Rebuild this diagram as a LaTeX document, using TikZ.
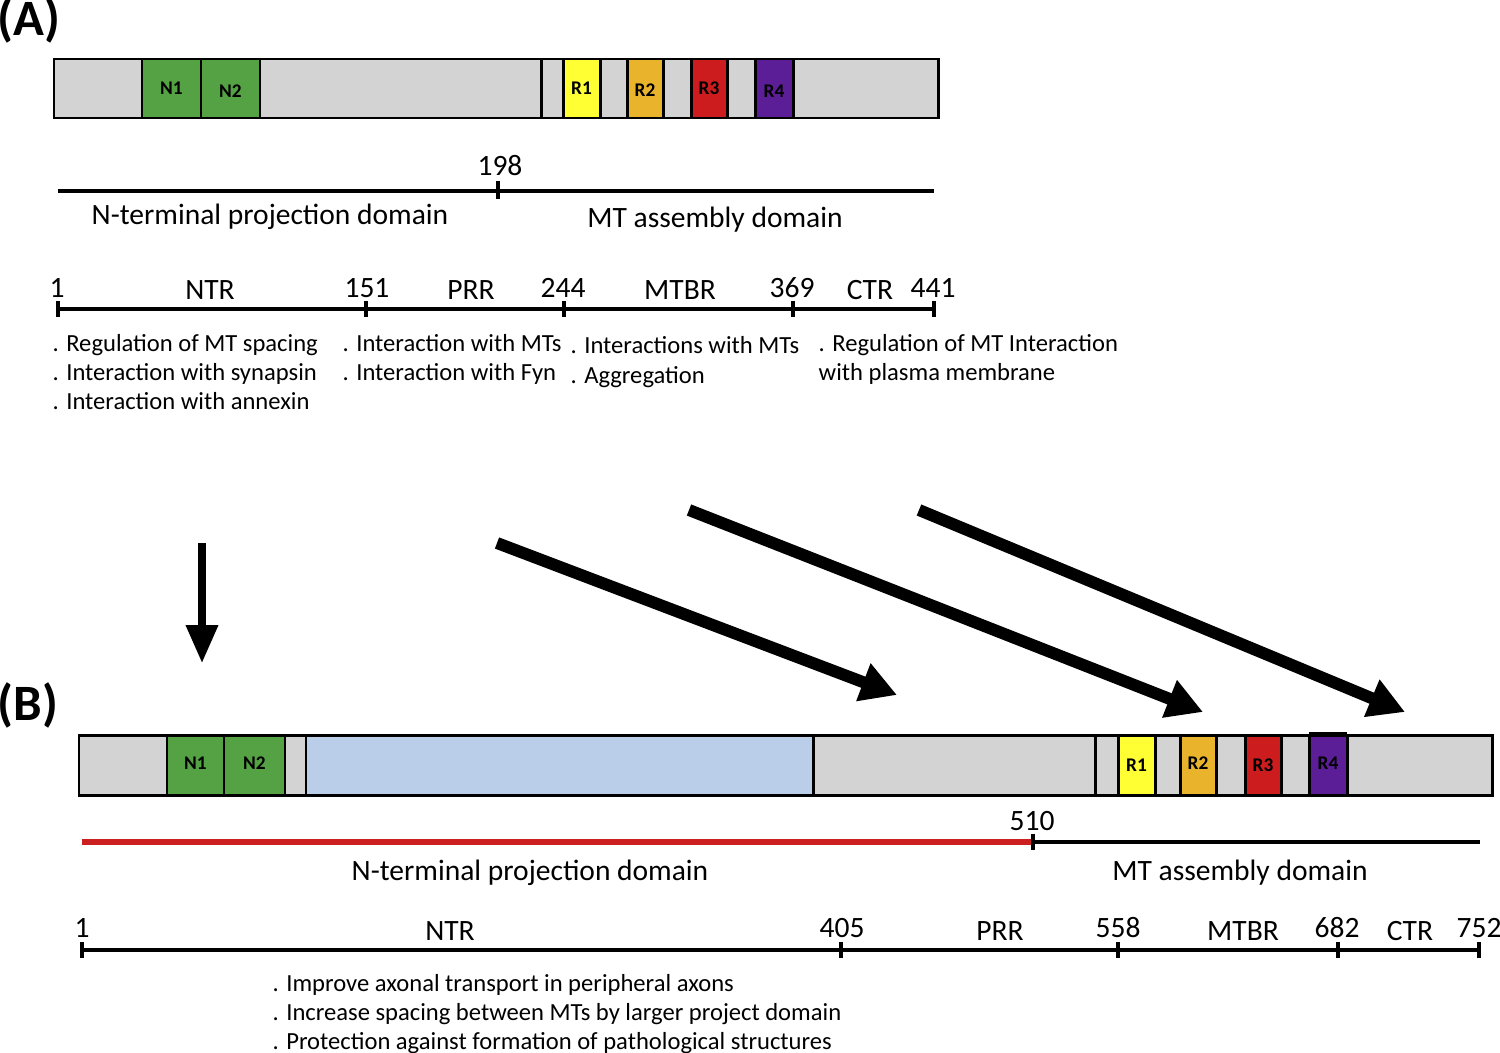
\documentclass[tikz,border=0pt]{standalone}
\usepackage{fontspec}
\setmainfont{Carlito}
\usetikzlibrary{arrows.meta}

\definecolor{domgray}{HTML}{D3D3D3}
\definecolor{ngreen}{HTML}{55A244}
\definecolor{ryellow}{HTML}{FFFF33}
\definecolor{rorange}{HTML}{E9B42B}
\definecolor{rred}{HTML}{CC1C1E}
\definecolor{rpurple}{HTML}{5B1E97}
\definecolor{lblue}{HTML}{BACDE9}
\definecolor{pred}{HTML}{CC1F1F}

\begin{document}
\begin{tikzpicture}[x=0.1mm, y=-0.1mm,
        seg/.style={draw=black, line width=0.85pt},
        tag/.style={font=\fontsize{5.5}{6}\selectfont\bfseries, inner sep=0pt},
        lab/.style={font=\fontsize{8.4}{10}\selectfont, inner sep=0pt, anchor=base},
        note/.style={font=\fontsize{7}{8.25}\selectfont, inner sep=0pt, anchor=base west},
        panel/.style={font=\fontsize{14.5}{16}\selectfont\bfseries, inner sep=0pt},
        axis/.style={line width=1.3pt},
        tick/.style={line width=1.1pt},
        fat/.style={-{Triangle[length=3.6mm, width=3.8mm]}, line width=3.4pt},
        slim/.style={-{Triangle[length=3.8mm, width=3.1mm]}, line width=2pt}
    ]
    \useasboundingbox (0,0) rectangle (1500,1053);

    % Panel labels
    \node[panel] (pa) at (29,20) {(A)};
    \node[panel] (pb) at (28,705) {(B)};

    % Bar A
    \draw[seg, fill=domgray] (54,59) rectangle (938,118);
    \draw[seg] (541,59) -- (541,118);
    \foreach \xa/\xb/\col/\txt/\ty/\nm in {142/201/ngreen/N1/88/an1, 201/260/ngreen/N2/91/an2,
            563/600/ryellow/R1/88/ar1, 627/663/rorange/R2/90/ar2,
            691/727/rred/R3/88/ar3, 755/793/rpurple/R4/91/ar4} {
        \draw[seg, fill=\col] (\xa,59) rectangle (\xb,118);
        \node[tag] (\nm) at ({(\xa+\xb)/2},\ty) {\txt};
    }

    % Domains A
    \coordinate (da1) at (58,191);
    \coordinate (da2) at (934,191);
    \draw[axis] (da1) -- (da2);
    \draw[tick] (498,181) -- (498,199);
    \node[lab] (cutA) at (500,176) {198};
    \node[lab] (projA) at (270,224) {N-terminal projection domain};
    \node[lab] (asmA) at (715,227) {MT assembly domain};

    % Scale A
    \foreach \x [count=\i] in {58,366,564,793,934} {
        \coordinate (sa\i) at (\x,309);
        \draw[tick] (\x,301) -- (\x,317);
    }
    \draw[axis] (sa1) -- (sa5);
    \foreach \x/\txt [count=\i] in {57/1,367/151,563/244,792/369,933/441}
        \node[lab] (numA\i) at (\x,298) {\txt};
    \foreach \x/\txt [count=\i] in {210/NTR,471/PRR,680/MTBR,870/CTR}
        \node[lab] (regA\i) at (\x,299) {\txt};

    % Notes A
    \foreach \txt [count=\i] in {{. Regulation of MT spacing}, {. Interaction with synapsin},
            {. Interaction with annexin}}
        \node[note] (ntrA\i) at (52,{351+29*(\i-1)}) {\txt};
    \foreach \txt [count=\i] in {{. Interaction with MTs}, {. Interaction with Fyn}}
        \node[note] (prrA\i) at (342,{351+29*(\i-1)}) {\txt};
    \foreach \txt [count=\i] in {{. Interactions with MTs}, {. Aggregation}}
        \node[note] (mtbrA\i) at (570,{353+30*(\i-1)}) {\txt};
    \foreach \txt [count=\i] in {{. Regulation of MT Interaction}, {with plasma membrane}}
        \node[note] (ctrA\i) at (818,{351+29*(\i-1)}) {\txt};

    % Arrows
    \coordinate (ar0s) at (202,543);
    \coordinate (ar0e) at (202,663);
    \coordinate (ar1s) at (497,543);
    \coordinate (ar1e) at (897,695);
    \coordinate (ar2s) at (689,510);
    \coordinate (ar2e) at (1203,712);
    \coordinate (ar3s) at (919,510);
    \coordinate (ar3e) at (1405,712);
    \draw[slim] (ar0s) -- (ar0e);
    \draw[fat] (ar1s) -- (ar1e);
    \draw[fat] (ar2s) -- (ar2e);
    \draw[fat] (ar3s) -- (ar3e);

    % Bar B
    \draw[seg, fill=domgray] (79,735) rectangle (1492,795);
    \draw[seg] (1095,735) -- (1095,795);
    \draw[seg, fill=lblue] (306,735) rectangle (813,795);
    \foreach \xa/\xb/\col/\txt/\ty/\nm in {167/224/ngreen/N1/763/bn1, 224/285/ngreen/N2/763/bn2,
            1118/1155/ryellow/R1/765/br1, 1180/1216/rorange/R2/763/br2,
            1245/1281/rred/R3/765/br3, 1309/1347/rpurple/R4/763/br4} {
        \draw[seg, fill=\col] (\xa,735) rectangle (\xb,795);
        \node[tag] (\nm) at ({(\xa+\xb)/2},\ty) {\txt};
    }
    \draw[line width=1.2pt] (1309,734) -- (1347,734);

    % Domains B
    \coordinate (db1) at (82,842);
    \coordinate (db2) at (1033,842);
    \coordinate (db3) at (1480,842);
    \draw[axis, pred, line width=1.6pt] (db1) -- (db2);
    \draw[axis] (db2) -- (db3);
    \draw[tick] (1033,834) -- (1033,850);
    \node[lab] (cutB) at (1032,830) {510};
    \node[lab] (projB) at (530,880) {N-terminal projection domain};
    \node[lab] (asmB) at (1240,880) {MT assembly domain};

    % Scale B
    \foreach \x [count=\i] in {82,841,1118,1338,1479} {
        \coordinate (sb\i) at (\x,950);
        \draw[tick] (\x,942) -- (\x,958);
    }
    \draw[axis] (sb1) -- (sb5);
    \foreach \x/\txt [count=\i] in {82/1,842/405,1118/558,1337/682,1479/752}
        \node[lab] (numB\i) at (\x,937) {\txt};
    \foreach \x/\txt [count=\i] in {450/NTR,1000/PRR,1243/MTBR,1410/CTR}
        \node[lab] (regB\i) at (\x,940) {\txt};

    % Notes B
    \foreach \txt [count=\i] in {{. Improve axonal transport in peripheral axons},
            {. Increase spacing between MTs by larger project domain},
            {. Protection against formation of pathological structures}}
        \node[note] (ntrB\i) at (272,{991+29*(\i-1)}) {\txt};

\end{tikzpicture}
\end{document}
